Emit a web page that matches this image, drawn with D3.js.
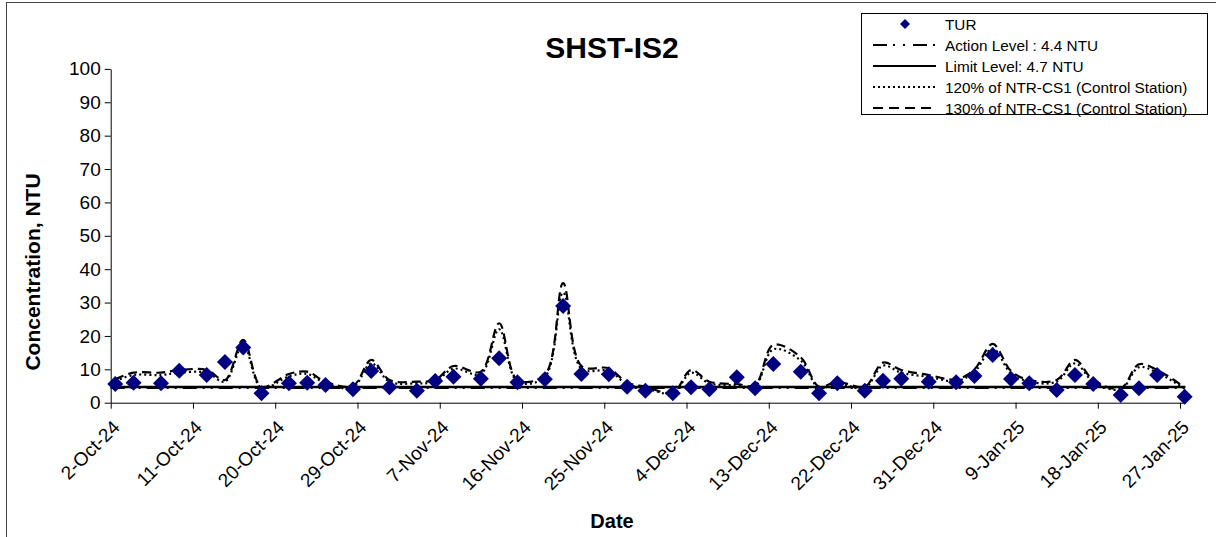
<!DOCTYPE html>
<html><head><meta charset="utf-8">
<script src="https://cdn.jsdelivr.net/npm/d3@7"></script>
<style>body{margin:0;background:#fff} svg{display:block} text{font-family:Arial,"Liberation Sans",sans-serif;fill:#000}</style>
</head><body><svg id="c" width="1216" height="537"></svg>
<script>
// ---- data ----
const sampleDates = ["2024-10-02","2024-10-04","2024-10-07","2024-10-09","2024-10-12","2024-10-14","2024-10-16","2024-10-18",
"2024-10-21","2024-10-23","2024-10-25","2024-10-28","2024-10-30","2024-11-01","2024-11-04","2024-11-06","2024-11-08",
"2024-11-11","2024-11-13","2024-11-15","2024-11-18","2024-11-20","2024-11-22","2024-11-25","2024-11-27","2024-11-29",
"2024-12-02","2024-12-04","2024-12-06","2024-12-09","2024-12-11","2024-12-13","2024-12-16","2024-12-18","2024-12-20",
"2024-12-23","2024-12-25","2024-12-27","2024-12-30","2025-01-02","2025-01-04","2025-01-06","2025-01-08","2025-01-10",
"2025-01-13","2025-01-15","2025-01-17","2025-01-20","2025-01-22","2025-01-24","2025-01-27"];
const turValues = [5.6,6.0,5.8,9.6,8.3,12.2,16.5,2.8,5.8,6.0,5.3,4.0,9.5,4.6,3.6,6.5,7.8,7.2,13.3,6.1,7.0,29.0,8.6,8.5,4.8,3.6,
2.8,4.6,4.0,7.6,4.3,11.6,9.3,2.8,5.8,3.6,6.6,7.2,6.3,6.1,8.0,14.3,7.1,5.8,3.8,8.3,5.6,2.3,4.3,8.3,1.8];
const ctl120Values = [6.5,8.3,8.3,9.0,9.0,6.3,17.4,4.4,7.9,8.6,5.8,4.6,11.8,6.3,5.8,6.3,10.2,8.6,22.0,6.3,7.7,33.0,10.2,9.5,5.5,4.4,
2.8,9.0,5.8,5.2,4.9,16.0,12.6,4.4,5.8,4.4,11.1,9.0,7.7,6.5,9.2,16.2,8.8,6.3,6.3,11.8,6.3,4.0,10.6,9.0,4.2];
const ctl130Values = [7.0,9.0,9.0,9.8,9.8,6.8,18.8,4.8,8.6,9.3,6.3,5.0,12.8,6.8,6.3,6.8,11.0,9.3,23.8,6.8,8.3,35.8,11.0,10.3,6.0,4.8,
3.0,9.8,6.3,5.6,5.3,17.3,13.6,4.8,6.3,4.8,12.0,9.8,8.3,7.0,10.0,17.6,9.5,6.8,6.8,12.8,6.8,4.3,11.5,9.8,4.6];
const actionLevel = 4.4;
const limitLevel = 4.7;
const tickDates = ["2024-10-02","2024-10-11","2024-10-20","2024-10-29","2024-11-07","2024-11-16","2024-11-25","2024-12-04",
"2024-12-13","2024-12-22","2024-12-31","2025-01-09","2025-01-18","2025-01-27"];
const tickLabels = ["2-Oct-24","11-Oct-24","20-Oct-24","29-Oct-24","7-Nov-24","16-Nov-24","25-Nov-24","4-Dec-24",
"13-Dec-24","22-Dec-24","31-Dec-24","9-Jan-25","18-Jan-25","27-Jan-25"];
const yTicks = [0,10,20,30,40,50,60,70,80,90,100];
const legendLabels = ["TUR","Action Level : 4.4 NTU","Limit Level: 4.7 NTU","120% of NTR-CS1 (Control Station)","130% of NTR-CS1 (Control Station)"];
const titleText = "SHST-IS2";
const xTitle = "Date";
const yTitle = "Concentration, NTU";

// ---- drawing ----
const parse = d3.timeParse("%Y-%m-%d");
const svg = d3.select("#c");
const mid = s => d3.timeHour.offset(parse(s), 12);

const x = d3.scaleTime().domain([parse("2024-10-02"), new Date(2025,0,27,14)]).range([110.7, 1185.4]);
const y = d3.scaleLinear().domain([0,100]).range([402.7, 68.9]);

// chart border
svg.append("rect").attr("x",6.5).attr("y",2.5).attr("width",1300).attr("height",700)
  .attr("fill","none").attr("stroke","#444").attr("stroke-width",1);

// title
svg.append("text").attr("x",612).attr("y",58).attr("text-anchor","middle")
  .style("font-size","30px").style("font-weight","bold").text(titleText);

// axes
const yAxis = svg.append("g").attr("transform","translate(110.7,0)")
  .call(d3.axisLeft(y).tickValues(yTicks).tickSize(6).tickSizeOuter(0).tickPadding(4));
yAxis.selectAll("text").style("font-size","19px").style("font-family","Arial,'Liberation Sans',sans-serif").attr("fill","#000");
yAxis.selectAll("line,path").attr("stroke","#000");

const tickD = tickDates.map(parse);
const xAxis = svg.append("g").attr("transform","translate(0,402.7)")
  .call(d3.axisBottom(x).tickValues(tickD).tickFormat((d,i)=>tickLabels[i]).tickSize(6).tickSizeOuter(0));
xAxis.selectAll("line,path").attr("stroke","#000");
xAxis.selectAll("text").style("font-size","19px").style("font-family","Arial,'Liberation Sans',sans-serif").attr("fill","#000")
  .attr("text-anchor","end").attr("x",0).attr("y",0).attr("dy","0.35em")
  .attr("transform","translate(5,21) rotate(-45)");

// axis titles
svg.append("text").attr("x",612).attr("y",528).attr("text-anchor","middle")
  .style("font-size","20px").style("font-weight","bold").text(xTitle);
svg.append("text").attr("transform","translate(40,272) rotate(-90)").attr("text-anchor","middle")
  .style("font-size","21px").style("font-weight","bold").text(yTitle);

// level lines
const [x0, x1] = x.range();
svg.append("line").attr("x1",x0).attr("x2",x1).attr("y1",y(actionLevel)).attr("y2",y(actionLevel))
  .attr("stroke","#000").attr("stroke-width",2).attr("stroke-dasharray","14,6,2,6,2,6");
svg.append("line").attr("x1",x0).attr("x2",x1).attr("y1",y(limitLevel)).attr("y2",y(limitLevel))
  .attr("stroke","#000").attr("stroke-width",2.5);

// control lines
const pts = vals => vals.map((v,i)=>[x(mid(sampleDates[i])), y(v)]);
const lineGen = d3.line().curve(d3.curveCatmullRom.alpha(0.5));
svg.append("path").attr("d", lineGen(pts(ctl120Values))).attr("fill","none").attr("stroke","#000")
  .attr("stroke-width",2.2).attr("stroke-dasharray","2,3");
svg.append("path").attr("d", lineGen(pts(ctl130Values))).attr("fill","none").attr("stroke","#000")
  .attr("stroke-width",2.2).attr("stroke-dasharray","9,5");

// TUR diamonds
const diamond = s => `M0,${-s}L${s},0L0,${s}L${-s},0Z`;
svg.append("g").selectAll("path").data(turValues).join("path")
  .attr("d", diamond(8)).attr("fill","#000080")
  .attr("transform",(v,i)=>`translate(${x(mid(sampleDates[i]))},${y(v)})`);

// legend
const lg = svg.append("g");
lg.append("rect").attr("x",861.5).attr("y",13.5).attr("width",346).attr("height",101)
  .attr("fill","#fff").attr("stroke","#000").attr("stroke-width",1);
const rowY = [24,45,66,87,108];
const styles = [null, "14,6,2,8,2,8", null, "2,3", "10,6"];
legendLabels.forEach((lab,i)=>{
  if (i===0) {
    lg.append("path").attr("d",diamond(5)).attr("fill","#000080").attr("transform",`translate(905,${rowY[i]})`);
  } else {
    const l = lg.append("line").attr("x1",873).attr("x2",936).attr("y1",rowY[i]).attr("y2",rowY[i])
      .attr("stroke","#000").attr("stroke-width",2.2);
    if (styles[i]) l.attr("stroke-dasharray",styles[i]);
  }
  lg.append("text").attr("x",945).attr("y",rowY[i]).attr("dy","0.36em").style("font-size","15.3px").text(lab);
});
</script></body></html>
